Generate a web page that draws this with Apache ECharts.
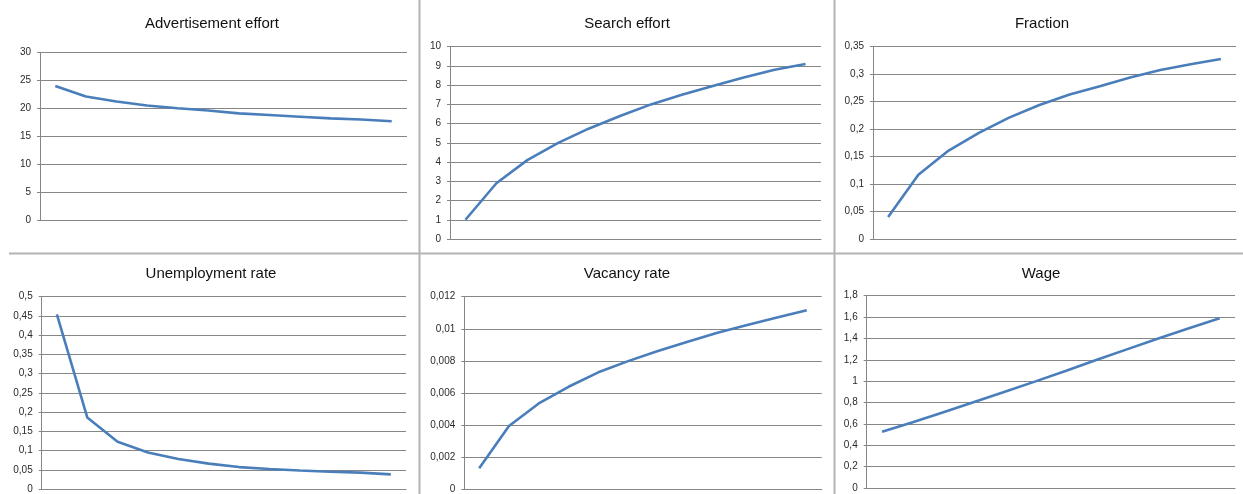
<!DOCTYPE html>
<html>
<head>
<meta charset="utf-8">
<script src="https://cdn.jsdelivr.net/npm/echarts@6/dist/echarts.min.js"></script>
<style>
  html, body { margin: 0; padding: 0; background: #fff; }
  #chart { width: 1243px; height: 494px; }
</style>
</head>
<body>
<div id="chart"></div>
<script>
// Simulation periods (12 steps, unlabeled on the x axis)
const periods = ['1', '2', '3', '4', '5', '6', '7', '8', '9', '10', '11', '12'];

// Series values per panel
const advertisementEffort = [24.0, 22.1, 21.2, 20.5, 20.0, 19.6, 19.1, 18.8, 18.5, 18.2, 18.0, 17.7];
const searchEffort = [1.0, 2.9, 4.1, 5.0, 5.75, 6.4, 7.0, 7.5, 7.95, 8.4, 8.8, 9.1];
const fraction = [0.04, 0.117, 0.161, 0.193, 0.221, 0.244, 0.263, 0.278, 0.294, 0.3075, 0.318, 0.3275];
const unemploymentRate = [0.454, 0.186, 0.123, 0.095, 0.078, 0.066, 0.057, 0.052, 0.048, 0.045, 0.0425, 0.038];
const vacancyRate = [0.00129, 0.00393, 0.00534, 0.00638, 0.00728, 0.00798, 0.00861, 0.00919, 0.00975, 0.01023, 0.0107, 0.01116];
const wage = [0.527, 0.615, 0.71, 0.805, 0.9, 0.998, 1.098, 1.2, 1.3, 1.4, 1.495, 1.588];

// Panel titles and y-axis ranges [max, interval]
const titles = ['Advertisement effort', 'Search effort', 'Fraction', 'Unemployment rate', 'Vacancy rate', 'Wage'];
const yMax = [30, 10, 0.35, 0.5, 0.012, 1.8];
const yStep = [5, 1, 0.05, 0.05, 0.002, 0.2];
const seriesData = [advertisementEffort, searchEffort, fraction, unemploymentRate, vacancyRate, wage];

// Plot-area boxes for the 3x2 layout
const boxes = [
  { left: 40,  top: 52.3,  width: 367,   height: 168 },
  { left: 450, top: 46.7,  width: 371,   height: 192.3 },
  { left: 873, top: 46.7,  width: 363,   height: 192.3 },
  { left: 41.7, top: 296.7, width: 364.3, height: 192.3 },
  { left: 464.3, top: 296.7, width: 357.4, height: 192.3 },
  { left: 866.7, top: 295.7, width: 368.3, height: 192.3 }
];
const titlePos = [[212, 24], [627, 24], [1042, 24], [211, 274], [627, 274], [1041, 274]];

const gridColor = '#868686';
const lineColor = '#4a7ebb';
const font = '"Liberation Sans", Arial, sans-serif';

function decimalComma(v) {
  return String(+v.toFixed(6)).replace('.', ',');
}

const grids = [], xAxes = [], yAxes = [], series = [], graphics = [];
for (let i = 0; i < 6; i++) {
  grids.push(Object.assign({ containLabel: false }, boxes[i]));
  xAxes.push({
    type: 'category', gridIndex: i, data: periods, boundaryGap: true,
    axisLine: { show: true, lineStyle: { color: gridColor, width: 1 } },
    axisTick: { show: false }, axisLabel: { show: false }, splitLine: { show: false }
  });
  yAxes.push({
    type: 'value', gridIndex: i, min: 0, max: yMax[i], interval: yStep[i],
    axisLine: { show: true, lineStyle: { color: gridColor, width: 1 } },
    axisTick: { show: true, length: 3, lineStyle: { color: gridColor } },
    axisLabel: { margin: 9, fontSize: 10, color: '#2a2a2a', fontFamily: font, formatter: decimalComma },
    splitLine: { show: true, lineStyle: { color: gridColor, width: 1 } }
  });
  series.push({
    type: 'line', xAxisIndex: i, yAxisIndex: i, data: seriesData[i],
    showSymbol: false, symbol: 'none', smooth: false,
    lineStyle: { color: lineColor, width: 2.6 }, animation: false
  });
  graphics.push({
    type: 'text', x: titlePos[i][0], y: titlePos[i][1],
    style: { text: titles[i], fill: '#111', font: '15px ' + font, textAlign: 'center', textVerticalAlign: 'middle' }
  });
}

// Panel separators
const sepStyle = { stroke: '#b4b4b4', lineWidth: 2 };
graphics.push({ type: 'line', shape: { x1: 419.5, y1: 0, x2: 419.5, y2: 494 }, style: sepStyle });
graphics.push({ type: 'line', shape: { x1: 834.5, y1: 0, x2: 834.5, y2: 494 }, style: sepStyle });
graphics.push({ type: 'line', shape: { x1: 9, y1: 253.5, x2: 1243, y2: 253.5 }, style: sepStyle });

const chart = echarts.init(document.getElementById('chart'), null, { renderer: 'canvas' });
chart.setOption({
  animation: false,
  backgroundColor: '#fff',
  grid: grids,
  xAxis: xAxes,
  yAxis: yAxes,
  series: series,
  graphic: graphics
});
</script>
</body>
</html>
